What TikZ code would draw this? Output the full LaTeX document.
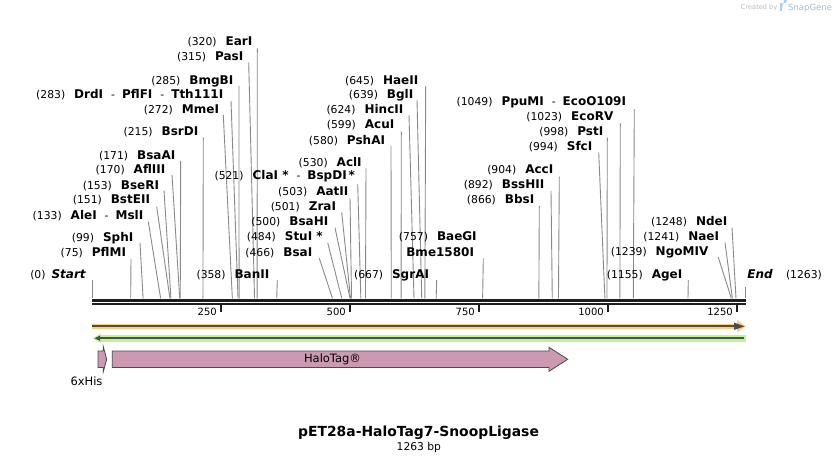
\documentclass[tikz,border=0pt]{standalone}
\usepackage{fontspec}
\setmainfont{DejaVu Sans}
\definecolor{barc}{HTML}{1E1E1E}
\definecolor{leadc}{HTML}{8A8A8A}
\definecolor{orangeL}{HTML}{FFCE7A}
\definecolor{greenL}{HTML}{BDF58F}
\definecolor{darkl}{HTML}{4D4D4D}
\definecolor{pinkf}{HTML}{CC99B3}
\definecolor{outl}{HTML}{4A4A4A}
\definecolor{logoc}{HTML}{A9CFEA}
\definecolor{credc}{HTML}{BDBDBD}
\newcommand\zpos[1]{{\fontsize{10.8}{13}\selectfont(#1)}\hspace{9pt}}
\newcommand\zname[1]{{\fontsize{12}{14}\selectfont\bfseries #1}}
\newcommand\zsep{\hspace{8pt}{\fontsize{10.8}{13}\selectfont-}\hspace{7pt}}
\newcommand\enz[7]{%
  \node[lab] (#1) at (#2,#3) {#7};
  \coordinate (#1-t) at (#4,#5);
  \coordinate (#1-s) at ({92+0.516*#6},298.3);
  \draw[lead] (#1-t) -- (#1-s);
}
\tikzset{
  lab/.style={anchor=base east, inner sep=0pt, outer sep=0pt, text=black},
  labl/.style={anchor=base west, inner sep=0pt, outer sep=0pt, text=black},
  lead/.style={draw=leadc, line width=0.9pt},
  tickm/.style={draw=barc, line width=2pt},
  ticklab/.style={anchor=base east, inner sep=0pt, font=\fontsize{10}{12}\selectfont},
  feat/.style={fill=pinkf, draw=outl, line width=0.8pt, line join=miter},
}
\begin{document}
\begin{tikzpicture}[x=1pt,y=-1pt]
\useasboundingbox (0,0) rectangle (838,462);
\fill[white] (0,0) rectangle (838,462);

% credit
\node[anchor=base east, inner sep=0pt, text=credc, font=\fontsize{6.6}{8}\selectfont] (cred) at (777.5,10) {Created by};
\fill[logoc] (780.3,3.2) rectangle (782.3,11.5);
\fill[logoc] (782.3,3.2) -- (784.5,3.2) arc[start angle=90, end angle=-90, radius=2.3] -- (782.3,7.8) -- cycle;
\node[anchor=base west, inner sep=0pt, text=logoc!80!gray, font=\fontsize{8.5}{10}\selectfont] (snap) at (788,11) {SnapGene};

% enzymes, left cluster
\enz{earI}{252.3}{46}{257.3}{48.3}{320}{\zpos{320}\zname{EarI}}
\enz{pasI}{243.3}{60.7}{248.7}{62.3}{315}{\zpos{315}\zname{PasI}}
\enz{bmgBI}{233.3}{84.3}{239}{86}{285}{\zpos{285}\zname{BmgBI}}
\enz{drdI}{223.3}{99}{231}{101}{283}{\zpos{283}\zname{DrdI}\zsep\zname{PflFI}\zsep\zname{Tth111I}}
\enz{mmeI}{219}{114}{223.3}{115}{272}{\zpos{272}\zname{MmeI}}
\enz{bsrDI}{198.3}{136}{203.3}{137.7}{215}{\zpos{215}\zname{BsrDI}}
\enz{bsaAI}{175.3}{159.3}{180.7}{160.7}{171}{\zpos{171}\zname{BsaAI}}
\enz{aflIII}{165.3}{174}{172}{175}{170}{\zpos{170}\zname{AflIII}}
\enz{bseRI}{159}{189.3}{164}{190.5}{153}{\zpos{153}\zname{BseRI}}
\enz{bstEII}{150}{204}{156.7}{206.7}{151}{\zpos{151}\zname{BstEII}}
\enz{aleI}{143.3}{219.3}{148.3}{221.7}{133}{\zpos{133}\zname{AleI}\zsep\zname{MslI}}
\enz{sphI}{133.3}{241.7}{140}{242.7}{99}{\zpos{99}\zname{SphI}}
\enz{pflMI}{126}{256.7}{131}{259}{75}{\zpos{75}\zname{PflMI}}
\enz{banII}{269.3}{279}{277.3}{280}{358}{\zpos{358}\zname{BanII}}

% middle cluster
\enz{claI}{355}{180}{357.7}{184}{521}{\zpos{521}\zname{ClaI *}\zsep\zname{BspDI\,*}}
\enz{aclI}{361.7}{166.7}{366}{168.3}{530}{\zpos{530}\zname{AclI}}
\enz{aatII}{348.3}{196}{350}{198.3}{503}{\zpos{503}\zname{AatII}}
\enz{zraI}{336}{211}{341.7}{212.3}{501}{\zpos{501}\zname{ZraI}}
\enz{bsaHI}{328.3}{226}{335}{227.7}{500}{\zpos{500}\zname{BsaHI}}
\enz{stuI}{322.7}{241}{327.7}{242.7}{484}{\zpos{484}\zname{StuI *}}
\enz{bsaI}{312.3}{256.7}{319.3}{258.3}{466}{\zpos{466}\zname{BsaI}}
\enz{pshAI}{385}{144.3}{391}{146}{580}{\zpos{580}\zname{PshAI}}
\enz{acuI}{394.3}{129}{401.3}{131.7}{599}{\zpos{599}\zname{AcuI}}
\enz{hincII}{403.3}{114}{409}{115}{624}{\zpos{624}\zname{HincII}}
\enz{bglI}{413.3}{99}{417}{100}{639}{\zpos{639}\zname{BglI}}
\enz{haeII}{418.3}{85}{425.7}{86}{645}{\zpos{645}\zname{HaeII}}
\enz{sgrAI}{429}{279}{436.7}{280}{667}{\zpos{667}\zname{SgrAI}}
\node[lab] (baeGI) at (476.7,241) {\zpos{757}\zname{BaeGI}};
\enz{bme}{474}{256.7}{483.3}{258.3}{757}{\zname{Bme1580I}}

% right cluster
\enz{ppuMI}{626}{106}{634.3}{109.3}{1049}{\zpos{1049}\zname{PpuMI}\zsep\zname{EcoO109I}}
\enz{ecoRV}{613.3}{120.7}{620.3}{123.3}{1023}{\zpos{1023}\zname{EcoRV}}
\enz{pstI}{603.3}{135.7}{607.3}{137.7}{998}{\zpos{998}\zname{PstI}}
\enz{sfcI}{592.3}{150.7}{598.7}{152.3}{994}{\zpos{994}\zname{SfcI}}
\enz{accI}{553.3}{174}{559.3}{176.7}{904}{\zpos{904}\zname{AccI}}
\enz{bssHII}{544.3}{189}{551}{191}{892}{\zpos{892}\zname{BssHII}}
\enz{bbsI}{534.3}{203.3}{539.3}{206}{866}{\zpos{866}\zname{BbsI}}
\enz{ndeI}{727.3}{226}{732}{227.7}{1248}{\zpos{1248}\zname{NdeI}}
\enz{naeI}{719}{241}{725}{242.7}{1241}{\zpos{1241}\zname{NaeI}}
\enz{ngoMIV}{708.3}{256}{718.3}{257.3}{1239}{\zpos{1239}\zname{NgoMIV}}
\enz{ageI}{682.3}{279}{688.3}{280}{1155}{\zpos{1155}\zname{AgeI}}

% start / end
\node[lab] (start) at (85.7,279) {{\fontsize{10.8}{13}\selectfont(0)}\hspace{6pt}\zname{\itshape Start}};
\coordinate (start-t) at (92,280);
\coordinate (start-s) at (92,298.3);
\draw[lead] (start-t) -- (start-s);
\node[labl] (endl) at (747.3,279) {\zname{\itshape End}};
\node[labl] (endp) at (786,279) {\fontsize{10.8}{13}\selectfont(1263)};
\coordinate (end-t) at (745,287.3);
\coordinate (end-s) at (745,298.3);
\draw[lead] (end-t) -- (end-s);

% sequence bar
\draw[barc, line width=2.7pt] (92,300.3) -- (745.6,300.3);
\draw[barc, line width=2.3pt] (92,304.2) -- (745.6,304.2);

% ticks
\foreach \t/\lb in {250/250,500/500,750/750,1000/1000,1250/1250}{
  \draw[tickm] ({92+0.516*\t},305) -- ({92+0.516*\t},312);
  \node[ticklab] (tick\lb) at ({92+0.516*\t-4},316) {\lb};
}

% orange (forward) strand bar
\fill[orangeL] (92,323.7) rectangle (739,329);
\fill[orangeL] (737,320) -- (745.8,326.3) -- (737,332.6) -- cycle;
\draw[darkl, line width=1.7pt] (92,326.3) -- (737,326.3);
\fill[darkl] (734,322.6) -- (744.6,326.3) -- (734,330) -- cycle;

% green (reverse) strand bar
\fill[greenL] (99,335) rectangle (745.8,341.7);
\fill[greenL] (92.5,338.3) -- (100.5,333.6) -- (100.5,343) -- cycle;
\draw[darkl, line width=1.7pt] (99,338.3) -- (743.5,338.3);
\fill[darkl] (94.6,338.3) -- (100,335.6) -- (100,341) -- cycle;

% features
\draw[feat] (98,351) -- (103.3,351) -- (103.3,346.7) -- (106.7,359.3) -- (103.3,371.7) -- (103.3,367.5) -- (98,367.5) -- cycle;
\node[anchor=base, inner sep=0pt, font=\fontsize{11.5}{13}\selectfont] (his) at (86.5,385) {6xHis};
\draw[feat] (112.3,351) -- (549,351) -- (549,347.3) -- (567.7,359.3) -- (549,371.3) -- (549,367.4) -- (112.3,367.4) -- cycle;
\node[inner sep=0pt, font=\fontsize{11.5}{13}\selectfont] (halo) at (332.5,359.3) {HaloTag®};

% title
\node[anchor=base, inner sep=0pt, font=\fontsize{13.9}{16}\selectfont\bfseries] (title) at (418.5,436) {pET28a-HaloTag7-SnoopLigase};
\node[anchor=base, inner sep=0pt, font=\fontsize{10.7}{13}\selectfont] (bp) at (418.8,450.5) {1263 bp};
\end{tikzpicture}
\end{document}
